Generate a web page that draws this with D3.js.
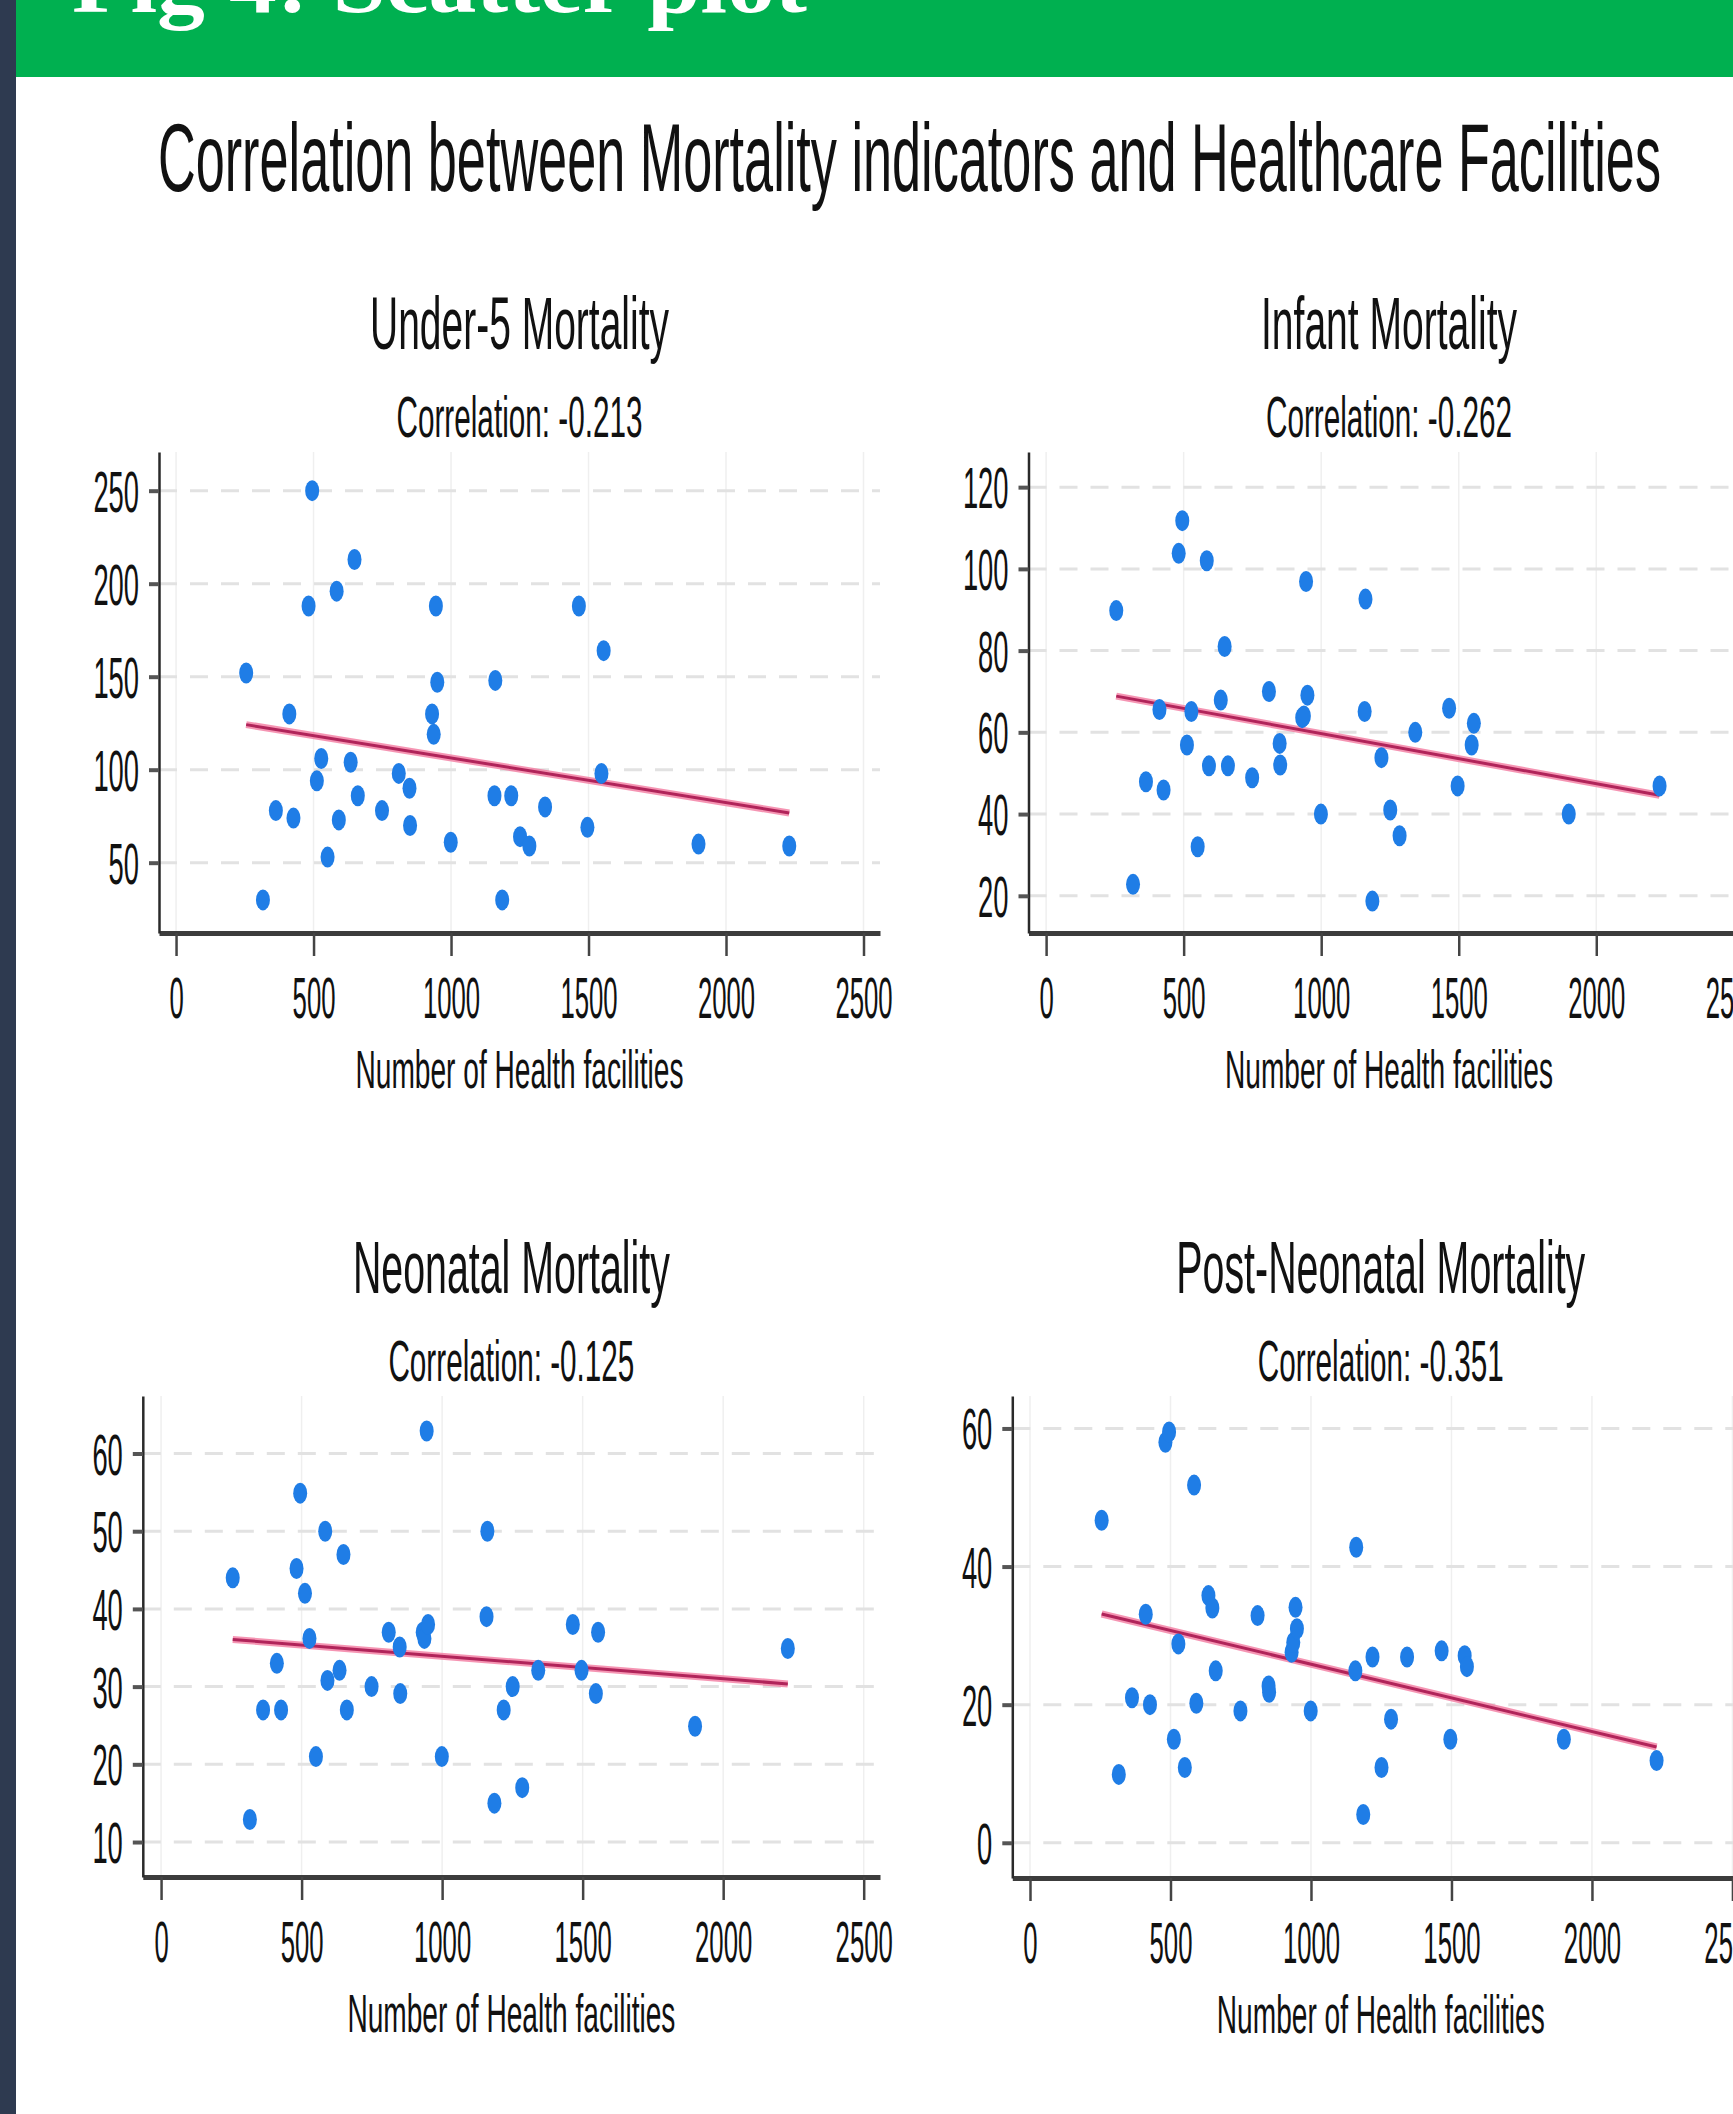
<!DOCTYPE html>
<html><head><meta charset="utf-8">
<script src="https://cdn.jsdelivr.net/npm/d3@7"></script>
<style>html,body{margin:0;padding:0;background:#fff;} svg{display:block}</style>
</head><body>
<svg id="c" width="1733" height="2114"></svg>
<script>
// ---------- data ----------
const facilities = [255, 316, 363, 412, 427, 482, 495, 512, 528, 551, 584, 592, 635, 649, 661, 749, 810, 849, 851, 931, 937, 945, 950, 999, 1158, 1161, 1186, 1219, 1251, 1285, 1342, 1465, 1496, 1547, 1555, 1900, 2230];
const under5 = [152, 30, 78, 130, 74, 188, 250, 94, 106, 53, 196, 73, 104, 213, 86, 78, 98, 90, 70, 130, 119, 188, 147, 61, 86, 148, 30, 86, 64, 59, 80, 188, 69, 98, 164, 60, 59];
const infant = [89.8, 22.8, 47.9, 65.6, 45.9, 103.8, 111.8, 56.9, 65.1, 32, 102, 51.8, 67.9, 81, 51.8, 48.9, 70, 57.3, 52, 63.6, 64, 96.9, 69.1, 40, 65.1, 92.6, 18.7, 53.8, 41, 34.7, 60, 65.9, 46.9, 56.9, 62.2, 40, 46.9];
const neonatal = [44, 12.9, 27, 33, 27, 45.2, 54.9, 42, 36.2, 21, 50, 30.8, 32.1, 47, 27, 30, 37, 35.1, 29.1, 37, 36.2, 62.9, 38, 21, 39, 50, 15, 27, 30, 17, 32.1, 38, 32.1, 29.1, 37, 24.9, 34.9];
const postNeonatal = [46.7, 9.9, 21, 33.1, 20, 58, 59.5, 15, 28.8, 10.9, 51.8, 20.2, 35.8, 34, 24.9, 19.1, 32.9, 22.7, 21.8, 27.6, 29, 34.1, 31, 19.1, 24.9, 42.8, 4.1, 26.9, 10.9, 17.9, 26.9, 27.8, 15, 27.1, 25.5, 15, 11.9];

const panelTitles = ["Under-5 Mortality", "Infant Mortality", "Neonatal Mortality", "Post-Neonatal Mortality"];
const correlations = ["-0.213", "-0.262", "-0.125", "-0.351"];
const xTicks = [0, 500, 1000, 1500, 2000, 2500];
const yTicks1 = [50, 100, 150, 200, 250];
const yTicks2 = [20, 40, 60, 80, 100, 120];
const yTicks3 = [10, 20, 30, 40, 50, 60];
const yTicks4 = [0, 20, 40, 60];
const headerText = "Fig 4: Scatter plot";
const mainTitle = "Correlation between Mortality indicators and Healthcare Facilities";
const xAxisTitle = "Number of Health facilities";

// ---------- layout ----------
const panels = [
  {title: panelTitles[0], corr: correlations[0], values: under5, yTicks: yTicks1,
   left: 159, right: 880, top: 452, bottom: 933, xDom: [-62, 2560], yDom: [12.2, 270.8], tw: 299},
  {title: panelTitles[1], corr: correlations[1], values: infant, yTicks: yTicks2,
   left: 1028.5, right: 1749.5, top: 452, bottom: 933, xDom: [-64, 2557], yDom: [10.9, 128.6], tw: 256},
  {title: panelTitles[2], corr: correlations[2], values: neonatal, yTicks: yTicks3,
   left: 142.8, right: 880, top: 1396, bottom: 1877, xDom: [-65, 2558], yDom: [5.5, 67.4], tw: 317},
  {title: panelTitles[3], corr: correlations[3], values: postNeonatal, yTicks: yTicks4,
   left: 1012.3, right: 1749.3, top: 1396, bottom: 1878, xDom: [-63, 2560], yDom: [-5.1, 64.7], tw: 409}
];

const FONT = "'Liberation Sans', Arial, Helvetica, sans-serif";
const svg = d3.select("#c");
function squeeze(sel, w) { return sel.attr("textLength", w).attr("lengthAdjust", "spacingAndGlyphs"); }

// background pieces
svg.append("rect").attr("x", 0).attr("y", 0).attr("width", 1733).attr("height", 2114).attr("fill", "#ffffff");
svg.append("rect").attr("x", 0).attr("y", 0).attr("width", 16).attr("height", 2114).attr("fill", "#2e3a50");
svg.append("rect").attr("x", 16).attr("y", 0).attr("width", 1717).attr("height", 77).attr("fill", "#00b050");
squeeze(svg.append("text").attr("x", 72).attr("y", 12)
  .attr("font-family", "'Liberation Serif', 'Times New Roman', serif").attr("font-weight", "bold")
  .attr("font-size", 86).attr("fill", "#ffffff").text(headerText), 735);

squeeze(svg.append("text").attr("x", 909.5).attr("y", 191).attr("text-anchor", "middle")
  .attr("font-family", FONT).attr("font-size", 96).attr("fill", "#111").text(mainTitle), 1503);

panels.forEach(p => {
  const g = svg.append("g");
  const x = d3.scaleLinear().domain(p.xDom).range([p.left, p.right]);
  const y = d3.scaleLinear().domain(p.yDom).range([p.bottom, p.top]);
  const cx = (p.left + p.right) / 2;

  // vertical grid (solid, light)
  g.append("g").selectAll("line").data(xTicks).join("line")
    .attr("x1", d => x(d)).attr("x2", d => x(d))
    .attr("y1", p.top).attr("y2", p.bottom)
    .attr("stroke", "#efefef").attr("stroke-width", 1.5);
  // horizontal grid (dashed)
  g.append("g").selectAll("line").data(p.yTicks).join("line")
    .attr("x1", p.left).attr("x2", p.right)
    .attr("y1", d => y(d)).attr("y2", d => y(d))
    .attr("stroke", "#e2e2e2").attr("stroke-width", 3).attr("stroke-dasharray", "18,13");

  // x axis
  const xa = g.append("g").attr("transform", `translate(0,${p.bottom})`)
    .call(d3.axisBottom(x).tickValues(xTicks).tickFormat(d3.format("d")).tickSizeInner(23).tickSizeOuter(0));
  xa.select(".domain").attr("stroke", "#3c3c3c").attr("stroke-width", 5);
  xa.selectAll(".tick line").attr("stroke", "#444").attr("stroke-width", 2.5);
  xa.selectAll(".tick text").attr("y", 85).attr("dy", null)
    .attr("font-family", FONT).attr("font-size", 57).attr("fill", "#111")
    .each(function(d) { squeeze(d3.select(this), String(d).length * 14.3); });

  // y axis
  const ya = g.append("g").attr("transform", `translate(${p.left},0)`)
    .call(d3.axisLeft(y).tickValues(p.yTicks).tickFormat(d3.format("d")).tickSizeInner(10).tickSizeOuter(0));
  ya.select(".domain").attr("stroke", "#2a2a2a").attr("stroke-width", 2.5);
  ya.selectAll(".tick line").attr("stroke", "#555").attr("stroke-width", 4);
  ya.selectAll(".tick text").attr("x", -20).attr("dy", "0.36em")
    .attr("font-family", FONT).attr("font-size", 57).attr("fill", "#111")
    .each(function(d) { squeeze(d3.select(this), String(d).length * 15.2); });

  // regression line computed from data (least squares)
  const pts = facilities.map((f, i) => [f, p.values[i]]);
  const mx = d3.mean(pts, d => d[0]), my = d3.mean(pts, d => d[1]);
  const sxy = d3.sum(pts, d => (d[0] - mx) * (d[1] - my));
  const sxx = d3.sum(pts, d => (d[0] - mx) ** 2);
  const slope = sxy / sxx, icpt = my - slope * mx;
  const ext = d3.extent(facilities);
  const lineData = ext.map(v => [v, icpt + slope * v]);
  const lineGen = d3.line().x(d => x(d[0])).y(d => y(d[1]));
  g.append("path").attr("d", lineGen(lineData)).attr("fill", "none")
    .attr("stroke", "#f27aa0").attr("stroke-width", 7).attr("stroke-opacity", 0.8);
  g.append("path").attr("d", lineGen(lineData)).attr("fill", "none")
    .attr("stroke", "#b0245a").attr("stroke-width", 3);

  // points
  g.append("g").selectAll("ellipse").data(pts).join("ellipse")
    .attr("cx", d => x(d[0])).attr("cy", d => y(d[1]))
    .attr("rx", 7).attr("ry", 10.5).attr("fill", "#1f7de6");

  // titles
  squeeze(g.append("text").attr("x", cx).attr("y", p.top - 103).attr("text-anchor", "middle")
    .attr("font-family", FONT).attr("font-size", 75).attr("fill", "#111").text(p.title), p.tw);
  squeeze(g.append("text").attr("x", cx).attr("y", p.top - 15).attr("text-anchor", "middle")
    .attr("font-family", FONT).attr("font-size", 58).attr("fill", "#111").text("Correlation: " + p.corr), 246);
  squeeze(g.append("text").attr("x", cx).attr("y", p.bottom + 155).attr("text-anchor", "middle")
    .attr("font-family", FONT).attr("font-size", 54).attr("fill", "#111").text(xAxisTitle), 328);
});
</script>
</body></html>
